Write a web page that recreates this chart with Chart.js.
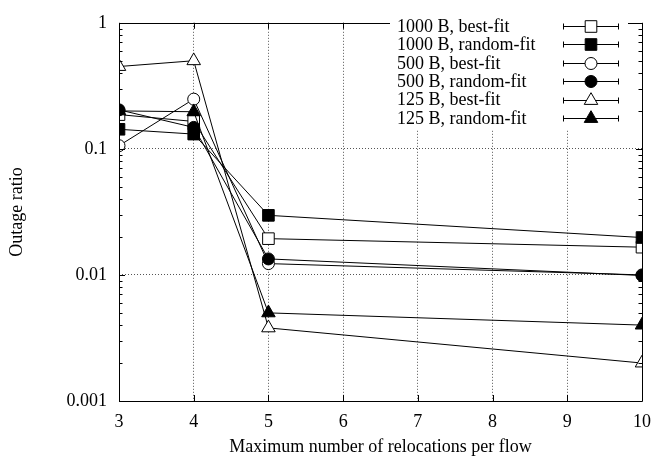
<!DOCTYPE html>
<html>
<head>
<meta charset="utf-8">
<script src="https://cdn.jsdelivr.net/npm/chart.js@4.4.1/dist/chart.umd.min.js"></script>
<style>
  body { margin: 0; background: #fff; }
  canvas { display: block; }
</style>
</head>
<body>
<canvas id="outageChart" width="671" height="464"></canvas>
<script>
// values
const relocations = [3, 4, 5, 10];
const b1000Best   = [0.187, 0.165, 0.0194, 0.0166];
const b1000Random = [0.143, 0.131, 0.0297, 0.0198];
const b500Best    = [0.106, 0.248, 0.0123, 0.0100];
const b500Random  = [0.204, 0.148, 0.0134, 0.0099];
const b125Best    = [0.45, 0.50, 0.0038, 0.0020];
const b125Random  = [0.200, 0.197, 0.0050, 0.0040];

const seriesLabels = [
    '1000 B, best-fit', '1000 B, random-fit',
    '500 B, best-fit', '500 B, random-fit',
    '125 B, best-fit', '125 B, random-fit'
];
const yTicks = [0.001, 0.01, 0.1, 1];
const xTicks = [3, 4, 5, 6, 7, 8, 9, 10];

const SERIF = "'Liberation Serif', 'DejaVu Serif', serif";
Chart.defaults.font.family = SERIF;
Chart.defaults.font.size = 18;
Chart.defaults.color = '#000';

const markers = [
    { style: 'rect', radius: 8.2, fill: '#fff' },
    { style: 'rect', radius: 8.2, fill: '#000' },
    { style: 'circle', radius: 6, fill: '#fff' },
    { style: 'circle', radius: 6, fill: '#000' },
    { style: 'triangle', radius: 7.8, fill: '#fff' },
    { style: 'triangle', radius: 7.8, fill: '#000' }
];

const allSeries = [b1000Best, b1000Random, b500Best, b500Random, b125Best, b125Random];

const datasets = allSeries.map((vals, i) => ({
    label: seriesLabels[i],
    data: relocations.map((x, j) => ({ x: x, y: vals[j] })),
    borderColor: '#000',
    borderWidth: 1,
    pointStyle: markers[i].style,
    pointRadius: markers[i].radius,
    pointBackgroundColor: markers[i].fill,
    pointBorderColor: '#000',
    pointBorderWidth: 1,
    fill: false,
    tension: 0,
    // later series drawn on top, like the original
    order: allSeries.length - i
}));

function drawMarker(ctx, style, r, x, y, fill) {
    ctx.beginPath();
    if (style === 'rect') {
        const s = Math.SQRT1_2 * r;
        ctx.rect(x - s, y - s, 2 * s, 2 * s);
    } else if (style === 'circle') {
        ctx.arc(x, y, r, 0, Math.PI * 2);
    } else {
        let rad = 0;
        ctx.moveTo(x + Math.sin(rad) * r, y - Math.cos(rad) * r);
        rad += Math.PI * 2 / 3;
        ctx.lineTo(x + Math.sin(rad) * r, y - Math.cos(rad) * r);
        rad += Math.PI * 2 / 3;
        ctx.lineTo(x + Math.sin(rad) * r, y - Math.cos(rad) * r);
        ctx.closePath();
    }
    ctx.fillStyle = fill;
    ctx.fill();
    ctx.strokeStyle = '#000';
    ctx.lineWidth = 1;
    ctx.stroke();
}

// frame with inward ticks, drawn over the points (gnuplot style)
const framePlugin = {
    id: 'frame',
    afterDatasetsDraw(chart) {
        const { ctx, chartArea: a, scales } = chart;
        const xs = scales.x, ys = scales.y;
        ctx.save();
        ctx.strokeStyle = '#000';
        ctx.lineWidth = 1;
        ctx.beginPath();
        ctx.rect(Math.round(a.left) + 0.5, Math.round(a.top) + 0.5,
                 Math.round(a.right - a.left), Math.round(a.bottom - a.top));
        // x major ticks, bottom and top
        xTicks.forEach(v => {
            const px = Math.round(xs.getPixelForValue(v)) + 0.5;
            ctx.moveTo(px, a.bottom); ctx.lineTo(px, a.bottom - 6);
            ctx.moveTo(px, a.top); ctx.lineTo(px, a.top + 6);
        });
        // y major + minor ticks, left and right
        for (let k = -3; k < 0; k++) {
            for (let m = 1; m <= 9; m++) {
                const v = m * Math.pow(10, k);
                const py = Math.round(ys.getPixelForValue(v)) + 0.5;
                const len = m === 1 ? 6 : 3.5;
                ctx.moveTo(a.left, py); ctx.lineTo(a.left + len, py);
                ctx.moveTo(a.right, py); ctx.lineTo(a.right - len, py);
            }
        }
        ctx.stroke();
        ctx.restore();
    }
};

// key box in the top right corner
const keyPlugin = {
    id: 'key',
    afterDraw(chart) {
        const ctx = chart.ctx;
        ctx.save();
        ctx.fillStyle = '#fff';
        ctx.fillRect(390, 16, 238, 114);
        ctx.font = '18px ' + SERIF;
        ctx.textAlign = 'left';
        ctx.textBaseline = 'middle';
        seriesLabels.forEach((label, i) => {
            const y = 26 + i * 18.4;
            ctx.fillStyle = '#000';
            ctx.fillText(label, 397, y + 1);
            const yy = Math.round(y) + 0.5;
            ctx.strokeStyle = '#000';
            ctx.lineWidth = 1;
            ctx.beginPath();
            ctx.moveTo(563, yy); ctx.lineTo(619, yy);
            ctx.moveTo(563.5, yy - 3); ctx.lineTo(563.5, yy + 3);
            ctx.moveTo(618.5, yy - 3); ctx.lineTo(618.5, yy + 3);
            ctx.stroke();
            drawMarker(ctx, markers[i].style, markers[i].radius, 591, yy, markers[i].fill);
        });
        ctx.restore();
    }
};

new Chart(document.getElementById('outageChart'), {
    type: 'line',
    data: { datasets: datasets },
    options: {
        responsive: false,
        devicePixelRatio: 1,
        animation: false,
        layout: { padding: { left: 0, top: 10, right: 29, bottom: 0 } },
        plugins: {
            legend: { display: false },
            tooltip: { enabled: false }
        },
        scales: {
            x: {
                type: 'linear',
                min: 3,
                max: 10,
                ticks: { stepSize: 1, padding: 10, font: { size: 18 } },
                grid: {
                    drawTicks: false,
                    lineWidth: 1,
                    color: (c) => (c.tick && (c.tick.value === 3 || c.tick.value === 10)) ? 'rgba(0,0,0,0)' : '#555'
                },
                border: { display: false, dash: [1, 2] },
                title: {
                    display: true,
                    text: 'Maximum number of relocations per flow',
                    font: { size: 18 },
                    padding: { top: 0, bottom: 6 }
                },
                afterFit(scale) { scale.height = 63; }
            },
            y: {
                type: 'logarithmic',
                min: 0.001,
                max: 1,
                afterBuildTicks(scale) { scale.ticks = yTicks.map(v => ({ value: v })); },
                ticks: {
                    padding: 12,
                    font: { size: 18 },
                    callback: (v) => String(v)
                },
                grid: {
                    drawTicks: false,
                    lineWidth: 1,
                    color: (c) => (c.tick && (c.tick.value === 0.001 || c.tick.value === 1)) ? 'rgba(0,0,0,0)' : '#555'
                },
                border: { display: false, dash: [1, 2] },
                title: {
                    display: true,
                    text: 'Outage ratio',
                    font: { size: 18 },
                    padding: { top: 6, bottom: 0 }
                },
                afterFit(scale) { scale.width = 119; }
            }
        }
    },
    plugins: [framePlugin, keyPlugin]
});
</script>
</body>
</html>
